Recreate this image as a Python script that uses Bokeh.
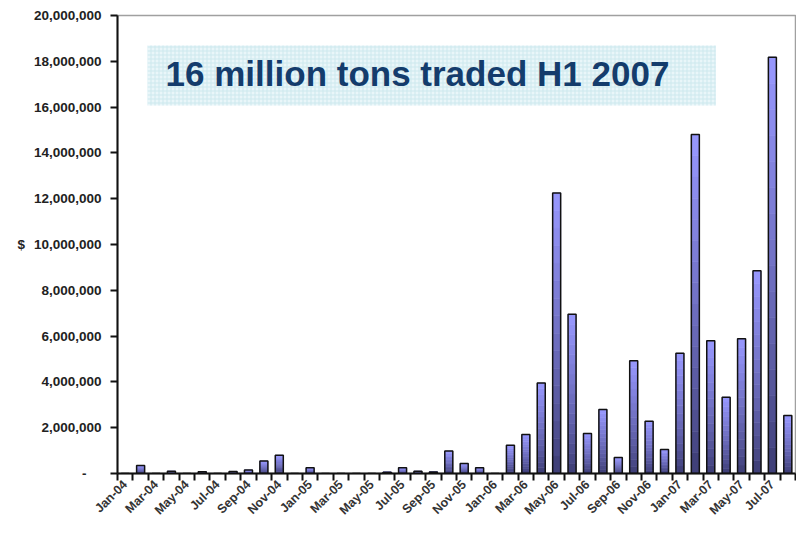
import math
from bokeh.plotting import figure
from bokeh.models import (Range1d, FixedTicker, CustomJSTickFormatter, Label,
                          BoxAnnotation, ColumnDataSource)
from bokeh.embed import file_html
from bokeh.resources import INLINE

# ---- data ----
months = ["Jan-04", "Feb-04", "Mar-04", "Apr-04", "May-04", "Jun-04", "Jul-04", "Aug-04",
          "Sep-04", "Oct-04", "Nov-04", "Dec-04", "Jan-05", "Feb-05", "Mar-05", "Apr-05",
          "May-05", "Jun-05", "Jul-05", "Aug-05", "Sep-05", "Oct-05", "Nov-05", "Dec-05",
          "Jan-06", "Feb-06", "Mar-06", "Apr-06", "May-06", "Jun-06", "Jul-06", "Aug-06",
          "Sep-06", "Oct-06", "Nov-06", "Dec-06", "Jan-07", "Feb-07", "Mar-07", "Apr-07",
          "May-07", "Jun-07", "Jul-07", "Aug-07"]
values = [0, 350000, 0, 100000, 0, 80000, 0, 90000,
          150000, 550000, 800000, 0, 250000, 0, 0, 0,
          0, 60000, 250000, 100000, 70000, 980000, 440000, 250000,
          0, 1230000, 1700000, 3950000, 12250000, 6950000, 1750000, 2800000,
          700000, 4920000, 2280000, 1050000, 5250000, 14800000, 5800000, 3330000,
          5880000, 8850000, 18180000, 2530000]
y_ticks = list(range(0, 20000001, 2000000))
title_text = "16 million tons traded H1 2007"
y_label = "$"

idx = list(range(len(months)))
src = ColumnDataSource(dict(x=idx, top=values, month=months))

# vertical colour gradient inside each bar (light top -> dark bottom)
N_SEG = 16
dark = (58, 58, 112)
light = (152, 152, 255)
gx, gb, gt, gc = [], [], [], []
for i, v in zip(idx, values):
    if v <= 0:
        continue
    for j in range(N_SEG):
        t = (j + 0.5) / N_SEG
        c = tuple(int(round(d + (l - d) * t ** 0.8)) for d, l in zip(dark, light))
        gx.append(i)
        gb.append(v * j / N_SEG)
        gt.append(v * (j + 1) / N_SEG)
        gc.append("#%02x%02x%02x" % c)
grad = ColumnDataSource(dict(x=gx, bottom=gb, top=gt, color=gc))

p = figure(width=796, height=539, output_backend="svg", toolbar_location=None,
           x_range=Range1d(-0.5, len(months) - 0.5), y_range=Range1d(0, 20000000),
           min_border_left=117, min_border_right=1, min_border_top=15, min_border_bottom=66)
p.background_fill_color = "white"
p.border_fill_color = "white"
p.outline_line_color = "#a0a0a0"
p.outline_line_width = 1.5
p.xgrid.visible = False
p.ygrid.visible = False

p.vbar(x="x", top="top", bottom="bottom", width=0.52, source=grad,
       fill_color="color", line_color="color", line_width=0.6)
p.vbar(x="x", top="top", bottom=0, width=0.52, source=src,
       fill_color=None, line_color="#111111", line_width=1.5)

# title box
p.add_layout(BoxAnnotation(left=1.45, right=38.33, top=18690000, bottom=16070000,
                           fill_color="#e9f6f9", fill_alpha=1.0, line_color=None,
                           hatch_pattern="+", hatch_color="#cde8ee", hatch_scale=4,
                           hatch_weight=1, hatch_alpha=1.0))
p.add_layout(Label(x=2.62, y=17480000, text=title_text, text_font="Liberation Sans",
                   text_font_style="bold", text_font_size="35px", text_color="#143c6c",
                   text_baseline="alphabetic", text_align="left"))

# x axis
xa = p.xaxis[0]
xa.ticker = FixedTicker(ticks=list(range(0, len(months), 2)),
                        minor_ticks=[k - 0.5 for k in range(len(months) + 1)])
xa.formatter = CustomJSTickFormatter(args=dict(labels=months),
                                     code="return labels[Math.round(tick)] || '';")
xa.major_tick_line_color = None
xa.major_tick_out = 7
xa.major_tick_in = 0
xa.minor_tick_line_color = "#111111"
xa.minor_tick_line_width = 2
xa.minor_tick_out = 7
xa.minor_tick_in = 0
xa.axis_line_color = "#111111"
xa.axis_line_width = 2
xa.major_label_orientation = math.pi / 4
xa.major_label_standoff = 2
xa.major_label_text_font = "Liberation Sans"
xa.major_label_text_font_style = "bold"
xa.major_label_text_font_size = "12.5px"
xa.major_label_text_color = "#333333"

# y axis
ya = p.yaxis[0]
ya.ticker = FixedTicker(ticks=y_ticks, minor_ticks=[])
ya.formatter = CustomJSTickFormatter(code="""
if (tick == 0) { return '-\\u00a0\\u00a0\\u00a0\\u00a0'; }
return Math.round(tick).toString().replace(/\\B(?=(\\d{3})+(?!\\d))/g, ',');
""")
ya.major_tick_line_color = "#111111"
ya.major_tick_line_width = 2
ya.major_tick_out = 7
ya.major_tick_in = 0
ya.minor_tick_line_color = None
ya.axis_line_color = "#111111"
ya.axis_line_width = 2
ya.major_label_standoff = 9
ya.major_label_text_font = "Liberation Sans"
ya.major_label_text_font_style = "bold"
ya.major_label_text_font_size = "13.5px"
ya.major_label_text_color = "#222222"
ya.axis_label = y_label
ya.axis_label_orientation = "horizontal"
ya.axis_label_standoff = 6
ya.axis_label_text_font = "Liberation Sans"
ya.axis_label_text_font_style = "bold"
ya.axis_label_text_font_size = "13.5px"
ya.axis_label_text_color = "#222222"

open("out.html", "w").write(file_html(p, INLINE))
